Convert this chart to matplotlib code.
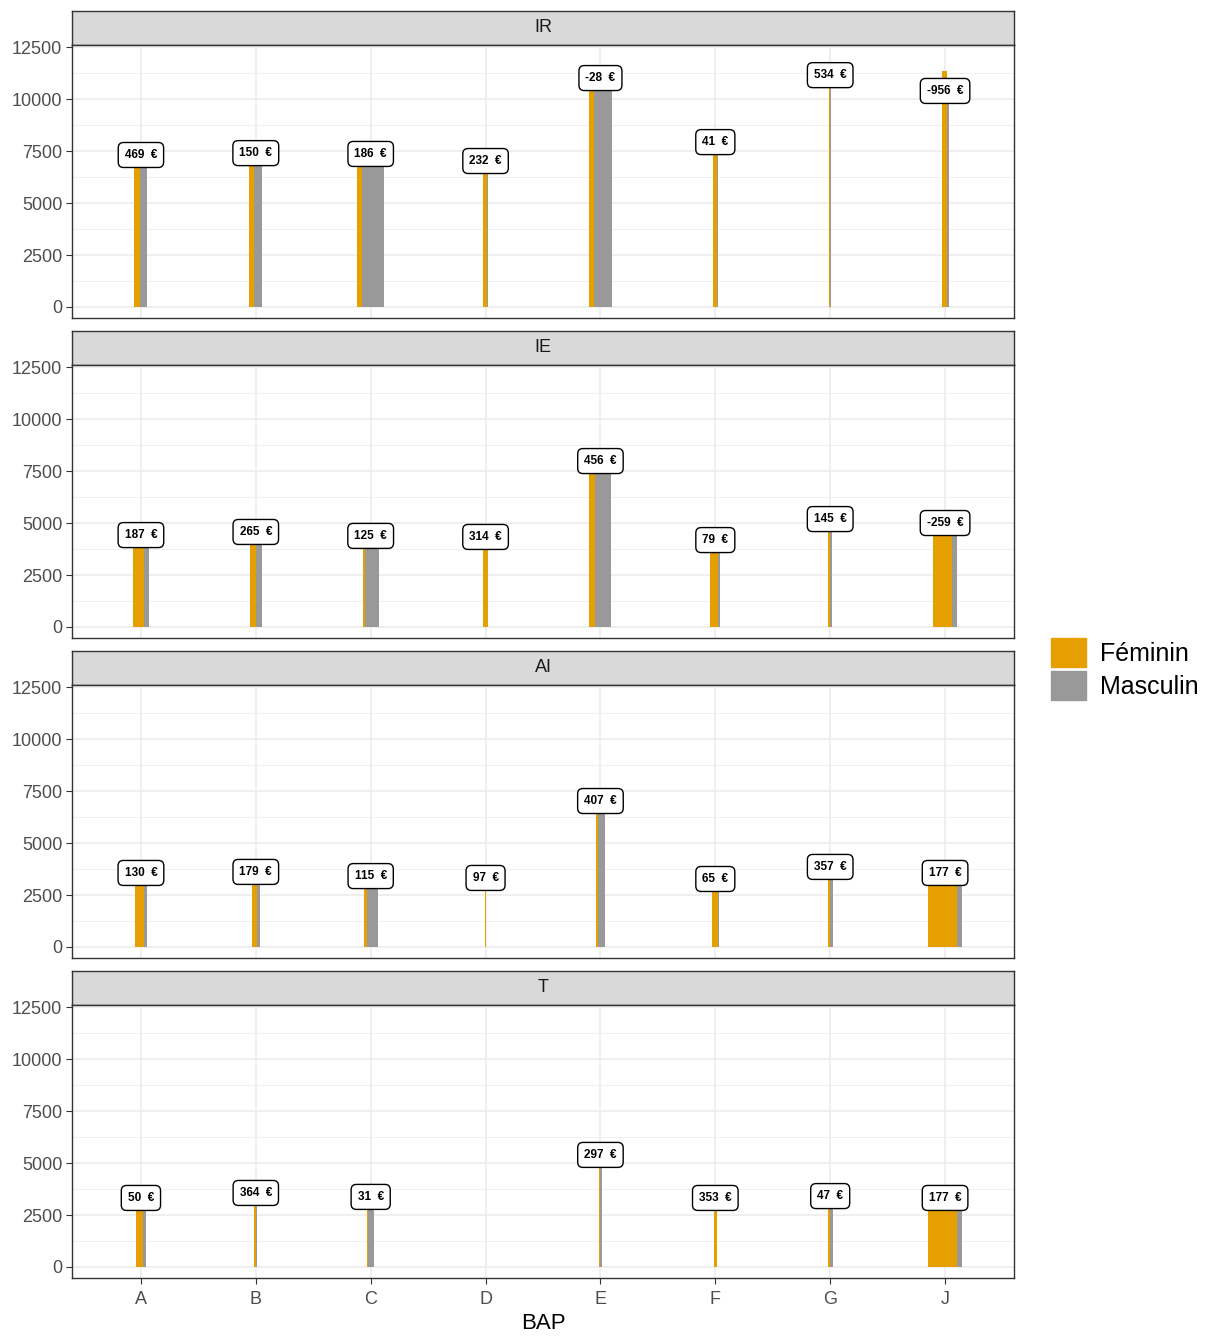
import numpy as np
import matplotlib
matplotlib.use('Agg')
import matplotlib.pyplot as plt
from matplotlib.patches import Patch

plt.rcParams['font.family'] = ['Liberation Sans', 'DejaVu Sans']

# BAP categories and the four corps (facets)
bap = ['A', 'B', 'C', 'D', 'E', 'F', 'G', 'J']
corps = ['IR', 'IE', 'AI', 'T']

# mean salary of men (label sits at this height), in euros
masc_ir = [7310, 7400, 7360, 7020, 11010, 7930, 11150, 10390]
masc_ie = [4420, 4570, 4380, 4330, 7980, 4180, 5190, 5000]
masc_ai = [3560, 3610, 3410, 3320, 7020, 3270, 3850, 3560]
masc_t = [3320, 3560, 3370, np.nan, 5390, 3320, 3410, 3320]

# gap men - women shown in the labels
ecart_ir = [469, 150, 186, 232, -28, 41, 534, -956]
ecart_ie = [187, 265, 125, 314, 456, 79, 145, -259]
ecart_ai = [130, 179, 115, 97, 407, 65, 357, 177]
ecart_t = [50, 364, 31, np.nan, 297, 353, 47, 177]

# headcounts (bar widths)
n_fem_ir = [12, 10, 10, 8, 10, 8, 1, 10]
n_mas_ir = [14, 16, 44, 2, 36, 1, 2, 4]
n_fem_ie = [22, 12, 4, 10, 12, 16, 3, 38]
n_mas_ie = [10, 12, 28, 1, 32, 4, 4, 10]
n_fem_ai = [18, 10, 6, 1, 4, 12, 4, 58]
n_mas_ai = [6, 6, 22, 1, 14, 1, 6, 10]
n_fem_t = [14, 4, 2, 0, 2, 6, 4, 58]
n_mas_t = [6, 2, 12, 0, 3, 1, 6, 10]

masc = [masc_ir, masc_ie, masc_ai, masc_t]
ecart = [ecart_ir, ecart_ie, ecart_ai, ecart_t]
n_fem = [n_fem_ir, n_fem_ie, n_fem_ai, n_fem_t]
n_mas = [n_mas_ir, n_mas_ie, n_mas_ai, n_mas_t]

col_f = '#E69F00'
col_m = '#999999'
W, H = 1207, 1336


def rect(x0, y0, x1, y1):
    return [x0 / W, 1 - y1 / H, (x1 - x0) / W, (y1 - y0) / H]


fig = plt.figure(figsize=(W / 100, H / 100), dpi=100)

strip_tops = [11, 331, 651, 971]
x = np.arange(1, len(bap) + 1)
unit = 1 / 230

for k, name in enumerate(corps):
    top = strip_tops[k]
    # strip
    sax = fig.add_axes(rect(72, top, 1014, top + 34))
    sax.set_facecolor('#D9D9D9')
    sax.set_xticks([])
    sax.set_yticks([])
    for s in sax.spines.values():
        s.set_color('#333333')
        s.set_linewidth(1.0)
    sax.text(0.5, 0.5, name, ha='center', va='center', fontsize=13, color='#1A1A1A')

    ax = fig.add_axes(rect(72, top + 34, 1014, top + 307))
    m = np.array(masc[k], dtype=float)
    d = np.array(ecart[k], dtype=float)
    f = m - d
    wf = np.array(n_fem[k]) * unit
    wm = np.array(n_mas[k]) * unit
    left = x - (wf + wm) / 2

    ax.bar(left, np.nan_to_num(f), width=wf, align='edge', color=col_f, zorder=2)
    ax.bar(left + wf, np.nan_to_num(m), width=wm, align='edge', color=col_m, zorder=2)

    for i in range(len(bap)):
        if np.isnan(m[i]):
            continue
        ax.text(x[i], m[i], f"{int(d[i])}  €", ha='center', va='center',
                fontsize=8.5, fontweight='bold', zorder=4,
                bbox=dict(boxstyle='round,pad=0.55,rounding_size=0.45',
                          fc='white', ec='black', lw=1.0))

    ax.set_xlim(0.4, 8.6)
    ax.set_ylim(-530, 12600)
    ax.set_yticks(np.arange(0, 12501, 2500))
    ax.set_yticks(np.arange(1250, 12500, 2500), minor=True)
    ax.set_xticks(x)
    ax.grid(True, which='major', color='#EBEBEB', lw=1.1, zorder=0)
    ax.grid(True, which='minor', axis='y', color='#F0F0F0', lw=0.7, zorder=0)
    ax.tick_params(axis='both', which='major', length=4, color='#333333',
                   labelsize=13, labelcolor='#4D4D4D', pad=3)
    ax.tick_params(axis='x', pad=5)
    ax.tick_params(axis='y', which='minor', length=0)
    for s in ax.spines.values():
        s.set_color('#333333')
        s.set_linewidth(1.0)
    if k < 3:
        ax.set_xticklabels([])
        ax.tick_params(axis='x', length=0)
    else:
        ax.set_xticklabels(bap)
        ax.set_xlabel('BAP', fontsize=16, color='black', labelpad=4)

handles = [Patch(color=col_f, label='Féminin'), Patch(color=col_m, label='Masculin')]
fig.legend(handles=handles, loc='center left', bbox_to_anchor=(1051 / W, 1 - 669 / H),
           frameon=False, fontsize=18, handlelength=1.4, handleheight=1.4,
           labelspacing=0.15, handletextpad=0.55, borderpad=0, borderaxespad=0)

fig.savefig('out.png', dpi=100, facecolor='white')
